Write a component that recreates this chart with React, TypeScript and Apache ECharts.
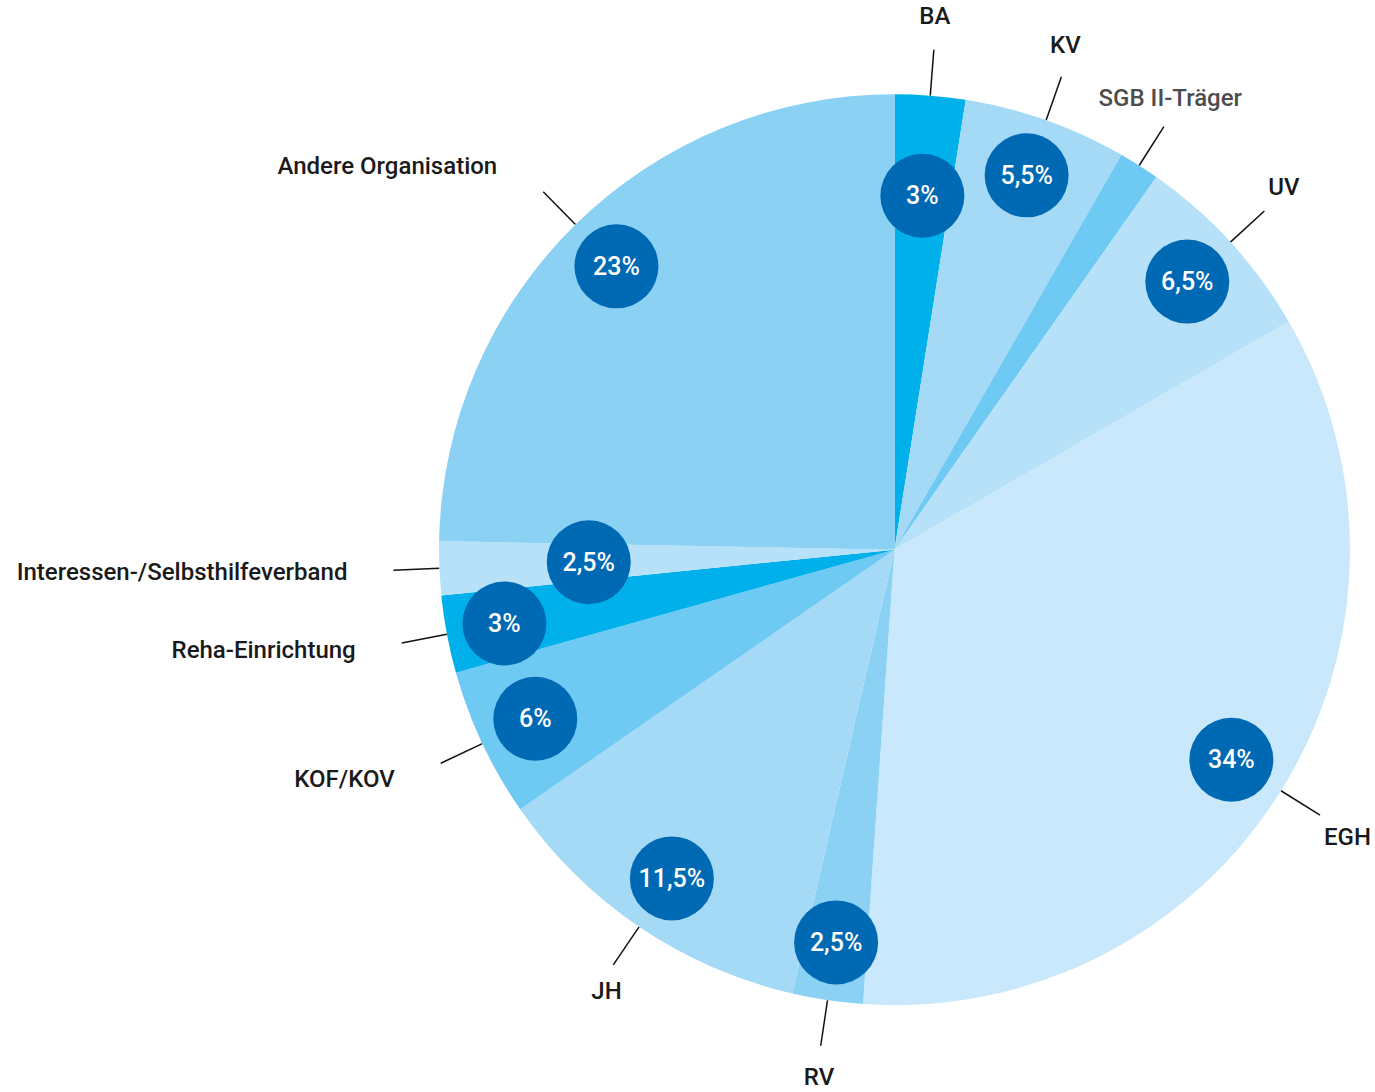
import React, { useEffect, useRef } from "react";
import * as echarts from "echarts";

// ---- data ----
const categories = [
  "BA",
  "KV",
  "SGB II-Träger",
  "UV",
  "EGH",
  "RV",
  "JH",
  "KOF/KOV",
  "Reha-Einrichtung",
  "Interessen-/Selbsthilfeverband",
  "Andere Organisation",
];
// slice sizes as drawn (percent of the full circle)
const shares = [2.5, 5.8, 1.45, 6.9, 34.45, 2.5, 11.75, 5.3, 2.75, 1.9, 24.7];
// printed percentages
const shareLabels = ["3%", "5,5%", "1,5%", "6,5%", "34%", "2,5%", "11,5%", "6%", "3%", "2,5%", "23%"];

// ---- styles ----
const sliceColors = [
  "#00b0ea",
  "#a5daf7",
  "#6ec9f3",
  "#b6e1f8",
  "#c9e8fb",
  "#8bd1f4",
  "#a5daf7",
  "#6ec9f3",
  "#00b0ea",
  "#b6e1f8",
  "#8bd1f4",
];
const mutedNames = ["SGB II-Träger"];
const badgeRings = [
  { r: 394, items: ["KV", "UV", "EGH", "RV", "JH", "KOF/KOV", "Reha-Einrichtung", "Andere Organisation"] },
  { r: 352, items: ["BA", "SGB II-Träger"] },
  { r: 303, items: ["Interessen-/Selbsthilfeverband"] },
];

const CX = 894.5;
const CY = 549.7;
const R = 455.5;

const layoutName = (p: any) => {
  const pts = p.labelLinePoints;
  if (!pts || pts.length < 2) return {};
  const [x0, y0] = pts[0];
  const [x1, y1] = pts[1];
  const len = Math.hypot(x1 - x0, y1 - y0) || 1;
  const ux = (x1 - x0) / len;
  const uy = (y1 - y0) / len;
  let align = "center";
  let x = x1 + ux * 12;
  let ky = uy > 0 ? 32 : 34;
  if (Math.abs(ux) >= 0.6) {
    if (ux > 0) {
      align = "left";
      x = x1 + 4;
      ky = uy > 0 ? 42 : 36;
    } else {
      align = "right";
      x = x1 - 46;
      ky = 36;
    }
  }
  return { x, y: y1 + uy * ky, align, verticalAlign: "middle", labelLinePoints: pts };
};

function buildOption() {
  const mainSeries: any = {
    type: "pie",
    center: [CX, CY],
    radius: [0, R],
    startAngle: 90,
    clockwise: true,
    avoidLabelOverlap: false,
    bleedMargin: 0,
    silent: true,
    itemStyle: { borderWidth: 0 },
    label: {
      show: true,
      position: "outside",
      alignTo: "none",
      formatter: "{b}",
      color: "#1a1a1a",
      fontFamily: "Roboto",
      fontWeight: 500,
      fontSize: 24,
      width: 400,
      overflow: "none",
    },
    labelLine: {
      show: true,
      length: 46,
      length2: 0,
      smooth: false,
      lineStyle: { color: "#111111", width: 1.5 },
    },
    labelLayout: layoutName,
    data: categories.map((name, i) => ({
      name,
      value: shares[i],
      itemStyle: { color: sliceColors[i] },
      label: mutedNames.includes(name) ? { color: "#4d4d4d" } : {},
    })),
  };

  const badgeSeries = badgeRings.map((ring) => ({
    type: "pie",
    center: [CX, CY],
    radius: [ring.r - 1, ring.r + 1],
    startAngle: 90,
    clockwise: true,
    avoidLabelOverlap: false,
    silent: true,
    itemStyle: { color: "rgba(0,0,0,0)", borderWidth: 0 },
    labelLine: { show: false },
    label: {
      show: true,
      position: "inside",
      formatter: (p: any) => shareLabels[p.dataIndex],
      color: "#ffffff",
      fontFamily: "Roboto",
      fontWeight: 500,
      fontSize: 25,
      backgroundColor: "#0069b4",
      borderRadius: 42,
      width: 84,
      height: 84,
      lineHeight: 84,
      padding: 0,
      align: "center",
      verticalAlign: "middle",
    },
    data: categories.map((name, i) => ({
      name,
      value: shares[i],
      label: { show: ring.items.includes(name) },
    })),
  }));

  return {
    animation: false,
    backgroundColor: "#ffffff",
    series: [mainSeries, ...badgeSeries],
  };
}

export default function App() {
  const ref = useRef<HTMLDivElement>(null);
  useEffect(() => {
    if (!ref.current) return;
    const chart = echarts.init(ref.current, null, { renderer: "svg" });
    chart.setOption(buildOption() as any);
    return () => chart.dispose();
  }, []);
  return (
    <div
      ref={ref}
      style={{ position: "absolute", left: 0, top: 0, width: 1375, height: 1092, background: "#fff" }}
    />
  );
}
